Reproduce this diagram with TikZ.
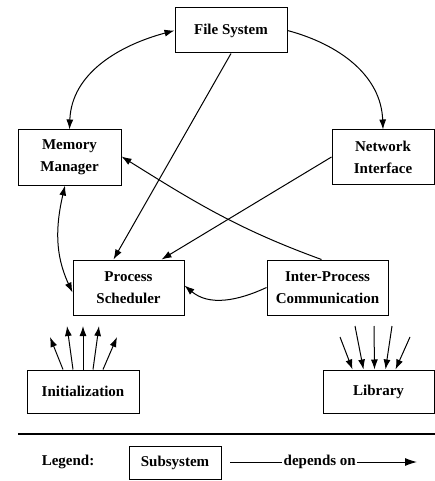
\documentclass[tikz,border=0pt]{standalone}
\usepackage{fontspec}
\setmainfont{Liberation Serif}
\usetikzlibrary{arrows.meta}
\begin{document}
\begin{tikzpicture}[x=1pt,y=-1pt,
  font=\fontsize{15}{22}\selectfont\bfseries,
  box/.style={draw,line width=1pt,align=center,inner sep=0pt},
  arr/.style={line width=1pt,-{Latex[length=10pt,width=7pt]}},
  darr/.style={line width=1pt,{Latex[length=10pt,width=7pt]}-{Latex[length=10pt,width=7pt]}}]
\useasboundingbox (0,0) rectangle (435,481);
% subsystems
\node[box,minimum width=112pt,minimum height=45pt] (fs) at (231,30.5) {File System};
\node[box,minimum width=103pt,minimum height=55pt] (mm) at (69.5,157.5) {Memory\\Manager};
\node[box,minimum width=102pt,minimum height=54pt] (ni) at (383,157) {Network\\Interface};
\node[box,minimum width=111pt,minimum height=55pt] (ps) at (128.5,287.5) {Process\\Scheduler};
\node[box,minimum width=121pt,minimum height=55pt] (ipc) at (327.5,287.5) {Inter-Process\\Communication};
\node[box,minimum width=112pt,minimum height=43pt] (ini) at (83,391.5) {Initialization};
\node[box,minimum width=111pt,minimum height=43pt] (lib) at (378.5,391.5) {Library};
% dependencies
\draw[darr] (fs.west) to[out=195,in=88] (mm.north);
\draw[arr] (fs.east) to[out=-15,in=92] (ni.north);
\draw[arr] (fs.south) -- ([xshift=-15pt]ps.north);
\draw[arr] (ni.west) -- ([xshift=33pt]ps.north);
\draw[arr] ([xshift=-6pt]ipc.north) to[out=160,in=-32] ([yshift=1pt]mm.east);
\draw[arr] (ipc.west) to[out=205,in=-40] ([yshift=2pt]ps.east);
\draw[darr] ([xshift=-4.5pt]mm.south) to[out=-103,in=115] ([yshift=-5pt]ps.west);
% initialization fan
\coordinate (i1) at (50,337);
\coordinate (i2) at (67,326);
\coordinate (i3) at (83,326);
\coordinate (i4) at (99,326);
\coordinate (i5) at (117,337);
\draw[arr] ([xshift=-20pt]ini.north) -- (i1);
\draw[arr] ([xshift=-10pt]ini.north) -- (i2);
\draw[arr] (ini.north) -- (i3);
\draw[arr] ([xshift=10pt]ini.north) -- (i4);
\draw[arr] ([xshift=20pt]ini.north) -- (i5);
% library fan
\coordinate (l1) at (340,337);
\coordinate (l2) at (355,326);
\coordinate (l3) at (374,326);
\coordinate (l4) at (392,326);
\coordinate (l5) at (410,337);
\draw[arr] (l1) -- ([xshift=-26pt]lib.north);
\draw[arr] (l2) -- ([xshift=-15pt]lib.north);
\draw[arr] (l3) -- ([xshift=-4pt]lib.north);
\draw[arr] (l4) -- ([xshift=7pt]lib.north);
\draw[arr] (l5) -- ([xshift=17pt]lib.north);
% legend
\coordinate (r1) at (18,434);
\coordinate (r2) at (435,434);
\draw[line width=1.6pt] (r1) -- (r2);
\node (lg) at (68,462) {Legend:};
\node[box,minimum width=92pt,minimum height=33pt] (sub) at (175,462.5) {Subsystem};
\coordinate (a1) at (230,462);
\coordinate (a2) at (417,462);
\draw[line width=1pt,-{Latex[length=12pt,width=8pt]}] (a1) -- node[pos=0.48,fill=white,inner sep=1.5pt] (dep) {depends on} (a2);
\end{tikzpicture}
\end{document}
